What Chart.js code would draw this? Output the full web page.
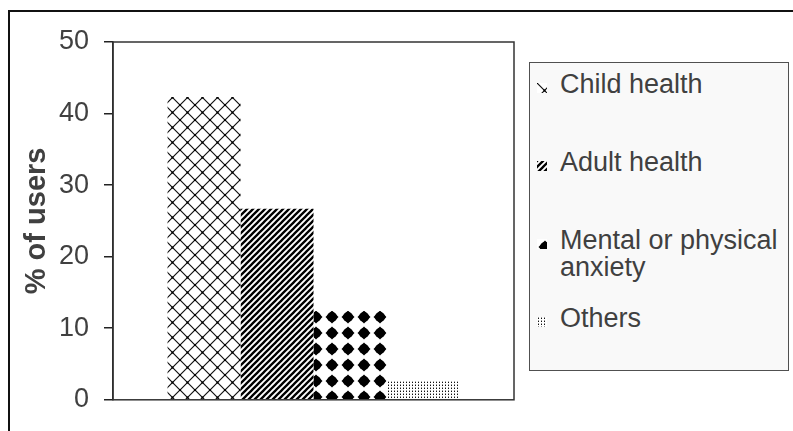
<!DOCTYPE html>
<html>
<head>
<meta charset="utf-8">
<script src="https://cdn.jsdelivr.net/npm/chart.js@4.4.0/dist/chart.umd.min.js"></script>
<style>
  html, body { margin: 0; padding: 0; background: #fff; }
  #wrap { position: relative; width: 793px; height: 431px; overflow: hidden; font-family: "Liberation Sans", Arial, sans-serif; }
  #frame { position: absolute; left: 8px; top: 10px; width: 820px; height: 460px; border-left: 2px solid #111; border-top: 2px solid #111; }
  #chart { position: absolute; left: 0; top: 0; }
  #legend { position: absolute; left: 529px; top: 62px; width: 260px; height: 309px; box-sizing: border-box;
            background: #f9f9f9; border: 1px solid #505050; }
  .item { position: absolute; left: 0; width: 258px; height: 78px; }
  .item canvas { position: absolute; left: 7px; top: 12px; }
  .item span { position: absolute; left: 30px; top: 0; width: 226px; font-size: 27px; line-height: 27px; color: #404040; }
</style>
</head>
<body>
<div id="wrap">
  <div id="frame"></div>
  <canvas id="chart" width="793" height="431"></canvas>
  <div id="legend"></div>
</div>
<script>
// Datos
const categories = ['Child health', 'Adult health', 'Mental or physical anxiety', 'Others'];
const shares = [42.3, 26.7, 12.4, 2.6];
const yTicks = [0, 10, 20, 30, 40, 50];

const FONT = '"Liberation Sans", Arial, sans-serif';

// ====== Tramas (patrones) para las barras ====== //
function makeTile(w, h, draw) {
    const c = document.createElement('canvas');
    c.width = w; c.height = h;
    const g = c.getContext('2d');
    g.fillStyle = '#fff';
    g.fillRect(0, 0, w, h);
    draw(g, w, h);
    return c;
}

const tiles = [
    // rejilla diagonal con cruces
    makeTile(15, 15, (g, w, h) => {
        g.strokeStyle = '#111';
        g.lineWidth = 1.2;
        g.beginPath();
        g.moveTo(0, 0); g.lineTo(w, h);
        g.moveTo(w, 0); g.lineTo(0, h);
        g.stroke();
        g.fillStyle = '#000';
        g.fillRect(6.5, 6.5, 2, 2);
        g.fillRect(0, 0, 1, 1); g.fillRect(w - 1, 0, 1, 1);
        g.fillRect(0, h - 1, 1, 1); g.fillRect(w - 1, h - 1, 1, 1);
    }),
    // rayas diagonales densas
    makeTile(6, 6, (g) => {
        g.strokeStyle = '#000';
        g.lineWidth = 2.3;
        g.beginPath();
        for (const k of [0, 6, 12]) {
            g.moveTo(k + 1, -1);
            g.lineTo(-1, k + 1);
        }
        g.stroke();
    }),
    // puntos gruesos
    makeTile(16, 16, (g) => {
        g.fillStyle = '#000';
        g.beginPath();
        g.arc(8, 8, 5, 0, Math.PI * 2);
        g.fill();
        g.beginPath();
        g.moveTo(8, 1.5); g.lineTo(14.5, 8); g.lineTo(8, 14.5); g.lineTo(1.5, 8);
        g.closePath();
        g.fill();
    }),
    // punteado fino
    makeTile(3, 3, (g) => {
        g.fillStyle = '#111';
        g.fillRect(1, 1, 1, 1);
        g.fillStyle = '#999';
        g.fillRect(1, 0, 1, 1);
    })
];

const ctx = document.getElementById('chart').getContext('2d');
const patterns = tiles.map(t => ctx.createPattern(t, 'repeat'));
patterns[2].setTransform(new DOMMatrix().translate(4, 5));

// Marco del área de trazado
const plotFrame = {
    id: 'plotFrame',
    beforeDatasetsDraw(chart) {
        const a = chart.chartArea;
        const c = chart.ctx;
        c.save();
        c.strokeStyle = '#333';
        c.lineWidth = 1.5;
        c.strokeRect(a.left, a.top, a.right - a.left, a.bottom - a.top);
        c.restore();
    }
};

const chart = new Chart(ctx, {
    type: 'bar',
    data: {
        labels: [''],
        datasets: categories.map((name, i) => ({
            label: name,
            data: [shares[i]],
            backgroundColor: patterns[i],
            borderWidth: 0,
            barPercentage: 1,
            categoryPercentage: 0.728
        }))
    },
    options: {
        responsive: false,
        animation: false,
        layout: { padding: { left: 0, top: 42, right: 279, bottom: 28 } },
        plugins: { legend: { display: false }, tooltip: { enabled: false } },
        scales: {
            x: { display: false },
            y: {
                min: 0,
                max: 50,
                afterBuildTicks(scale) { scale.ticks = yTicks.map(v => ({ value: v })); },
                afterFit(scale) { scale.width = 113; },
                ticks: { color: '#404040', padding: 15, font: { family: FONT, size: 27 } },
                grid: { drawOnChartArea: false, tickLength: 9, color: '#222', lineWidth: 1.5 },
                border: { color: '#222', width: 1.5 },
                title: {
                    display: true,
                    text: '% of users',
                    color: '#404040',
                    font: { family: FONT, size: 29, weight: 'bold' },
                    padding: { top: 20, bottom: 0 }
                }
            }
        }
    },
    plugins: [plotFrame]
});

// ====== Leyenda en HTML ====== //
const legend = document.getElementById('legend');
categories.forEach((name, i) => {
    const item = document.createElement('div');
    item.className = 'item';
    item.style.top = (8 + i * 78) + 'px';
    const sw = document.createElement('canvas');
    sw.width = 10; sw.height = 10;
    const sctx = sw.getContext('2d');
    sctx.fillStyle = sctx.createPattern(tiles[i], 'repeat');
    sctx.fillRect(0, 0, 10, 10);
    const label = document.createElement('span');
    label.textContent = name;
    item.appendChild(sw);
    item.appendChild(label);
    legend.appendChild(item);
});
</script>
</body>
</html>
